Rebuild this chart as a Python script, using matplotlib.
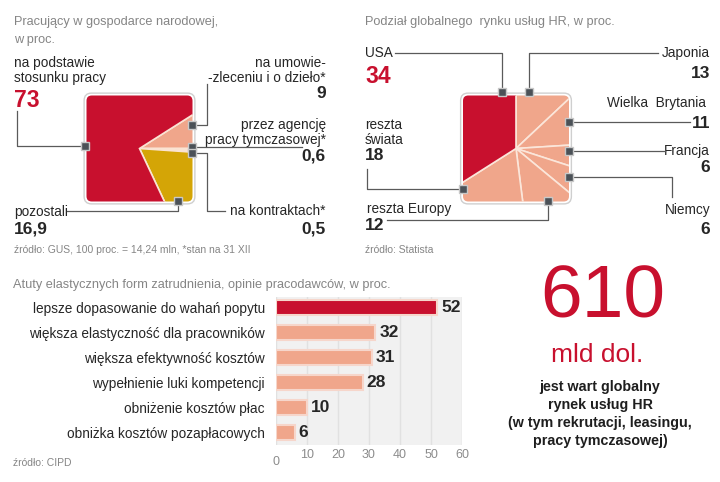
import matplotlib.pyplot as plt
from matplotlib.patches import FancyBboxPatch
from matplotlib.transforms import ScaledTranslation

plt.rcParams['font.family'] = ['Liberation Sans', 'DejaVu Sans']

# employment structure (GUS), clockwise from the pink slice
emp_labels = ['na umowie-zleceniu i o dzieło*', 'przez agencję pracy tymczasowej*',
              'na kontraktach*', 'pozostali', 'na podstawie stosunku pracy']
emp_values = [9, 0.6, 0.5, 16.9, 73]
emp_colors = ['#f0a68b', '#fbeed8', '#f3dc9f', '#d4a506', '#c8102e']

# global HR market share (Statista), clockwise from top
hr_labels = ['Japonia', 'Wielka Brytania', 'Francja', 'Niemcy',
             'reszta Europy', 'reszta świata', 'USA']
hr_values = [13, 11, 6, 6, 12, 18, 34]
hr_colors = ['#f0a68b'] * 6 + ['#c8102e']

# advantages of flexible employment (CIPD)
adv_labels = ['lepsze dopasowanie do wahań popytu', 'większa elastyczność dla pracowników',
              'większa efektywność kosztów', 'wypełnienie luki kompetencji',
              'obniżenie kosztów płac', 'obniżka kosztów pozapłacowych']
adv_values = [52, 32, 31, 28, 10, 6]
adv_ticks = [0, 10, 20, 30, 40, 50, 60]

RED = '#c8102e'
GRAY = '#858585'
DARK = '#262626'

fig = plt.figure(figsize=(7.2, 4.82), dpi=100)
W, H = 720, 482


def px_axes(x0, y0, w, h):
    # axes from pixel box (top-left origin)
    return fig.add_axes([x0 / W, 1 - (y0 + h) / H, w / W, h / H])


def square_pie(cx, cy, values, colors, start, edge):
    half = 53
    lim = 1.15
    size = 2 * lim * half
    ax = px_axes(cx - size / 2, cy - size / 2, size, size)
    frame = FancyBboxPatch((-1, -1), 2, 2, boxstyle='round,pad=0.045,rounding_size=0.14',
                           facecolor='white', edgecolor='#cfcfcf', lw=1, zorder=0)
    ax.add_patch(frame)
    clip = FancyBboxPatch((-1, -1), 2, 2, boxstyle='round,pad=0,rounding_size=0.1',
                          facecolor='none', edgecolor='none')
    ax.add_patch(clip)
    wedges, _ = ax.pie(values, colors=colors, startangle=start, counterclock=False,
                       radius=1.6, wedgeprops=dict(edgecolor=edge, linewidth=1.2))
    for wd in wedges:
        wd.set_clip_on(True)
        wd.set_clip_path(clip)
    ax.set_xlim(-lim, lim)
    ax.set_ylim(-lim, lim)
    ax.set_aspect('equal')
    ax.axis('off')
    return ax


square_pie(139.5, 148.5, emp_values, emp_colors, emp_values[0] * 3.6, '#fae3d3')
square_pie(516, 148.5, hr_values, hr_colors, 90, '#fbe6da')

# bar chart
bx = px_axes(276, 297, 186, 148)
ypos = list(range(len(adv_values)))
bar_colors = [RED] + ['#f0a68b'] * (len(adv_values) - 1)
bx.barh(ypos, adv_values, height=0.6, color=bar_colors, edgecolor='#f6d6cb', linewidth=1.5, zorder=3)
for y, v in zip(ypos, adv_values):
    bx.text(v + 1.3, y, str(v), va='center', ha='left', fontsize=12.5, fontweight='bold', color=DARK)
bx.set_xlim(0, 60)
bx.set_ylim(5.52, -0.44)
bx.set_facecolor('#f1f1f1')
bx.set_xticks(adv_ticks)
bx.set_xticklabels([str(t) for t in adv_ticks], color='#8c8c8c', fontsize=9)
bx.set_yticks(ypos)
bx.set_yticklabels(adv_labels, fontsize=9.8, color=DARK)
bx.tick_params(length=0)
bx.tick_params(axis='x', pad=3)
bx.tick_params(axis='y', pad=8)
bx.grid(axis='x', color='#e1e1e1', lw=1, zorder=1)
for s in bx.spines.values():
    s.set_visible(False)
# the "0" sits a bit lower in the original
zero = bx.get_xticklabels()[0]
zero.set_transform(zero.get_transform() + ScaledTranslation(0, -0.07, fig.dpi_scale_trans))

# overlay for texts and leaders
ov = fig.add_axes([0, 0, 1, 1])
ov.set_xlim(0, W)
ov.set_ylim(H, 0)
ov.axis('off')
ov.patch.set_alpha(0)


def leader(pts, mark):
    xs, ys = zip(*pts)
    ov.plot(xs, ys, color='#5a5a5a', lw=0.9, zorder=4)
    ov.plot([mark[0]], [mark[1]], marker='s', ms=5.8, color='#4b5157',
            mec='#c8c8c8', mew=1, zorder=5)


def t(x, y, s, ha='left', size=9.8, color=DARK, weight='normal', va='center', **kw):
    ov.text(x, y, s, ha=ha, va=va, fontsize=size, color=color, fontweight=weight, **kw)


NUM = 12.5

# left pie texts
t(14, 22, 'Pracujący w gospodarce narodowej,', size=9.2, color=GRAY)
t(14, 40, 'w proc.', size=9.2, color=GRAY)
t(14, 63, 'na podstawie')
t(14, 78, 'stosunku pracy')
t(14, 107, '73', size=16.5, color=RED, weight='bold', va='baseline')
t(326, 63, 'na umowie-', ha='right')
t(326, 78, '-zleceniu i o dzieło*', ha='right')
t(326, 94, '9', ha='right', size=NUM, weight='bold')
t(326, 125, 'przez agencję', ha='right')
t(326, 140, 'pracy tymczasowej*', ha='right')
t(326, 156, '0,6', ha='right', size=NUM, weight='bold')
t(326, 211, 'na kontraktach*', ha='right')
t(326, 229, '0,5', ha='right', size=NUM, weight='bold')
t(14, 212, 'pozostali')
t(14, 229, '16,9', size=NUM, weight='bold')
t(14, 250, 'źródło: GUS, 100 proc. = 14,24 mln, *stan na 31 XII', size=7.5, color=GRAY)

leader([(85, 146), (17, 146), (17, 111)], (85, 146))
leader([(192, 125), (207, 125), (207, 84)], (192, 125))
leader([(192, 147), (302, 147)], (192, 147))
leader([(192, 153), (207, 153), (207, 211), (225, 211)], (192, 153))
leader([(178, 201), (178, 211), (67, 211)], (178, 201))

# right pie texts
t(365, 22, 'Podział globalnego  rynku usług HR, w proc.', size=9.2, color=GRAY)
t(365, 53, 'USA')
t(365, 83, '34', size=16.5, color=RED, weight='bold', va='baseline')
t(710, 53, 'Japonia', ha='right')
t(710, 73, '13', ha='right', size=NUM, weight='bold')
t(706, 103, 'Wielka  Brytania', ha='right')
t(710, 123, '11', ha='right', size=NUM, weight='bold')
t(710, 151, 'Francja', ha='right')
t(710, 168, '6', ha='right', size=NUM, weight='bold')
t(710, 210, 'Niemcy', ha='right')
t(710, 229, '6', ha='right', size=NUM, weight='bold')
t(365, 125, 'reszta')
t(365, 140, 'świata')
t(365, 156, '18', size=NUM, weight='bold')
t(367, 209, 'reszta Europy')
t(365, 226, '12', size=NUM, weight='bold')
t(365, 250, 'źródło: Statista', size=7.5, color=GRAY)

leader([(502, 92), (502, 53), (395, 53)], (502, 92))
leader([(529, 92), (529, 53), (658, 53)], (529, 92))
leader([(569, 122), (690, 122)], (569, 122))
leader([(569, 151), (665, 151)], (569, 151))
leader([(569, 177), (672, 177), (672, 197)], (569, 177))
leader([(463, 189), (367, 189), (367, 169)], (463, 189))
leader([(548, 201), (548, 220), (387, 220)], (548, 201))

# bar chart texts
t(13, 285, 'Atuty elastycznych form zatrudnienia, opinie pracodawców, w proc.', size=9.2, color=GRAY)
t(13, 463, 'źródło: CIPD', size=7.5, color=GRAY)

# headline figure
ov.text(603, 317, '610', ha='center', va='baseline', fontsize=54, color=RED)
ov.text(597, 362, 'mld dol.', ha='center', va='baseline', fontsize=19, color=RED)
for y, line in zip([387, 405, 423, 441], ['jest wart globalny', 'rynek usług HR',
                                          '(w tym rekrutacji, leasingu,', 'pracy tymczasowej)']):
    t(600, y, line, ha='center', size=10.3, weight='bold', color='#1e1e1e')

fig.savefig('out.png', dpi=100)
